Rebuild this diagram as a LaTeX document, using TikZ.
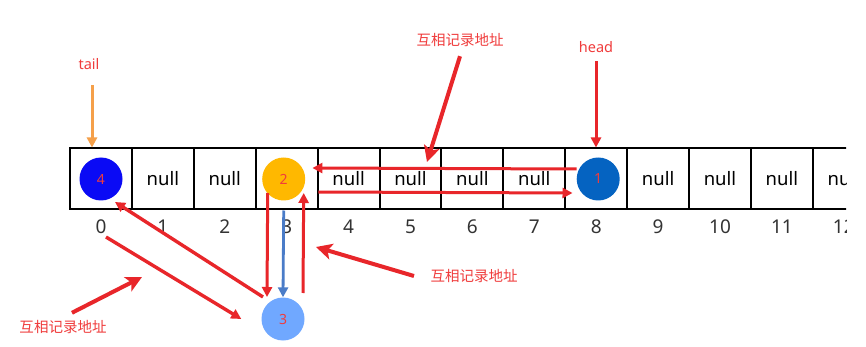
\documentclass[tikz,border=0pt]{standalone}
\usepackage{fontspec}
\setmainfont{Noto Sans}
\newfontfamily\cjk{Noto Sans CJK SC}
\usetikzlibrary{arrows.meta, positioning, calc}
\definecolor{linkred}{HTML}{E8262A}
\definecolor{notered}{HTML}{F03C3C}
\definecolor{tailorange}{HTML}{F5A04A}
\definecolor{nodeblue}{HTML}{0A0AF5}
\definecolor{headblue}{HTML}{0563C1}
\definecolor{nodegold}{HTML}{FFB800}
\definecolor{nodesky}{HTML}{70A8FF}
\definecolor{linkblue}{HTML}{4A7CC8}

\begin{document}
\begin{tikzpicture}[x=1pt, y=-1pt,
  cell/.style={draw, line width=2pt, minimum width=61.9pt, minimum height=61pt,
    inner sep=0pt, font=\fontsize{18.5}{18.5}\selectfont},
  idx/.style={font=\fontsize{19}{19}\selectfont, text=black!80},
  elem/.style={circle, minimum size=43pt, inner sep=0pt, text=notered,
    font=\fontsize{14}{14}\selectfont},
  note/.style={text=notered, font=\cjk\fontsize{14.5}{14.5}\selectfont},
  ptr/.style={text=notered, font=\fontsize{14.5}{14.5}\selectfont},
  linkarrow/.style={draw=linkred, line width=3pt, -{Triangle[length=10pt,width=10pt]}},
  hintarrow/.style={draw=linkred, line width=4pt,
    -{Stealth[length=16pt,width=16pt,inset=4pt]}},
  >=Stealth
]
  \useasboundingbox[fill=white] (0,0) rectangle (866,347);

  % the array, cut off at the right
  \begin{scope}
    \clip (0,0) rectangle (846,347);
    \foreach \i/\t in {0/{},1/null,2/null,3/{},4/null,5/null,6/null,7/null,
        8/{},9/null,10/null,11/null,12/null} {
      \node[cell] (c\i) at ({101+61.9*\i},179) {\t};
      \node[idx] (idx\i) at ([yshift=-16pt]c\i.south) {\i};
    }
  \end{scope}

  % elements
  \node[elem, fill=nodeblue] (e4) at (c0) {4};
  \node[elem, fill=nodegold] (e2) at ([xshift=-3pt]c3.center) {2};
  \node[elem, fill=headblue] (e1) at ([xshift=2pt]c8.center) {1};
  \node[elem, fill=nodesky] (e3) at (283,319) {3};

  % head and tail
  \node[ptr] (tail) at (89,64) {tail};
  \node[ptr] (head) at (596,47) {head};
  \draw[draw=tailorange, line width=3pt, -{Triangle[length=10pt,width=10pt]}]
    ([xshift=3pt,yshift=-12pt]tail.south) -- ([xshift=3pt]tail.south |- c0.north);
  \draw[linkarrow] ([yshift=-5pt]head.south) -- (head.south |- c8.north);

  % links 1 <-> 2
  \draw[linkarrow] ([yshift=10pt]e1.west) -- ([xshift=7pt,yshift=11pt]e2.east);
  \draw[linkarrow] ([xshift=13pt,yshift=-13pt]e2.east) -- ([xshift=-4pt,yshift=-14pt]e1.west);

  % links 2 <-> 3
  \draw[linkarrow] ([xshift=-16pt,yshift=-14pt]e2.center) -- ([xshift=-16pt,yshift=22pt]e3.center);
  \draw[draw=linkblue, line width=2.8pt, -{Triangle[length=10pt,width=10pt]}]
    (e2 |- c3.south) -- (e3.north);
  \draw[linkarrow] ([xshift=20pt,yshift=26pt]e3.center) -- ([xshift=20pt,yshift=-14pt]e2.center);

  % links 3 <-> 4
  \draw[linkarrow, line width=3.4pt] ([xshift=-20pt,yshift=22pt]e3.center) -- ([xshift=14pt,yshift=-23pt]e4.center);
  \draw[linkarrow, line width=3.4pt] ([xshift=5pt]idx0.south) -- ([xshift=-20pt]e3.west);

  % notes
  \node[note] (noteTop) at (460,40) {互相记录地址};
  \node[note] (noteRight) at (474,276) {互相记录地址};
  \node[note] (noteLeft) at (63,327) {互相记录地址};
  \coordinate (topEnd) at (427,162);
  \coordinate (rightEnd) at (316,247);
  \coordinate (leftEnd) at (142,277);
  \draw[hintarrow] ([yshift=-6pt]noteTop.south) -- (topEnd);
  \draw[hintarrow] ([xshift=-13pt]noteRight.west) -- (rightEnd);
  \draw[hintarrow] ([xshift=9pt,yshift=4pt]noteLeft.north) -- (leftEnd);
\end{tikzpicture}
\end{document}
